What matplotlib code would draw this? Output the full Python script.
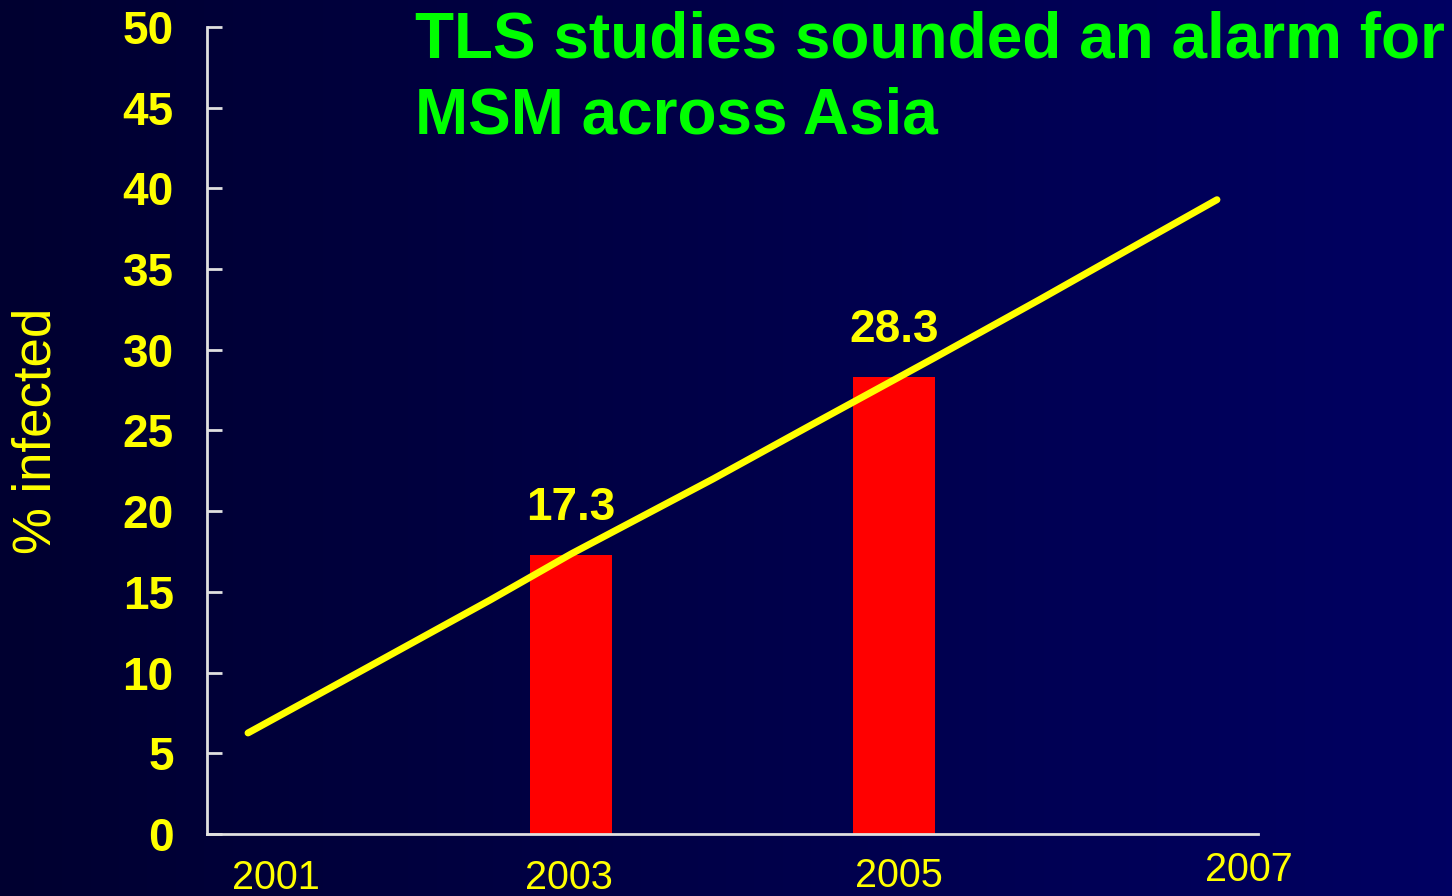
import numpy as np
import matplotlib
matplotlib.use("Agg")
import matplotlib.pyplot as plt

# data
bar_years = [2003, 2005]
bar_values = [17.3, 28.3]

trend_years = [2001.0, 2001.5, 2002.5, 2003.0, 2003.88, 2004.48, 2005.25, 2005.9, 2006.52, 2007.0]
trend_values = [6.26, 9.0, 14.5, 17.35, 22.0, 25.3, 29.5, 33.1, 36.6, 39.3]

year_labels = ["2001", "2003", "2005", "2007"]
year_label_x = [2001.17, 2002.99, 2005.03, 2007.2]
year_label_y = [-0.055, -0.055, -0.052, -0.045]

title_lines = ["TLS studies sounded an alarm for", "MSM across Asia"]

yellow = "#FFFF00"
green = "#00FF00"
font = "Liberation Sans"

fig = plt.figure(figsize=(14.52, 8.96), dpi=100)

# horizontal navy gradient background
bg = fig.add_axes([0, 0, 1, 1], zorder=-10)
grad = np.linspace(0, 1, 256).reshape(1, -1)
cmap = matplotlib.colors.LinearSegmentedColormap.from_list("navy", ["#000030", "#000062"])
bg.imshow(grad, aspect="auto", cmap=cmap, extent=[0, 1, 0, 1])
bg.axis("off")

ax = fig.add_axes([207 / 1452, 1 - 834 / 896, 1051 / 1452, 807 / 896])
ax.patch.set_alpha(0)

ax.bar(bar_years, bar_values, width=0.51, color="#FF0000", zorder=2)
ax.plot(trend_years, trend_values, color=yellow, lw=5, solid_capstyle="round", zorder=3)

for x, v in zip(bar_years, bar_values):
    ax.text(x, v + 2.9, f"{v}", ha="center", va="center", color=yellow,
            fontsize=33, fontweight="bold", family=font)

ax.set_xlim(2000.746, 2007.254)
ax.set_ylim(0, 50)
ax.set_yticks(np.arange(0, 51, 5))
ax.set_xticks([])

ax.tick_params(axis="y", direction="in", length=11, width=2, color="#E0E0E0",
               labelsize=33, labelcolor=yellow, pad=24)
for lab in ax.get_yticklabels():
    lab.set_fontweight("bold")
    lab.set_family(font)

for s in ["top", "right"]:
    ax.spines[s].set_visible(False)
for s in ["left", "bottom"]:
    ax.spines[s].set_color("#E0E0E0")
    ax.spines[s].set_linewidth(2)

for lab, x, y in zip(year_labels, year_label_x, year_label_y):
    ax.text(x, y, lab, transform=ax.get_xaxis_transform(), ha="center", va="center",
            color=yellow, fontsize=28.5, family=font)

fig.text(37 / 1452, 1 - 431 / 896, "% infected", rotation=90, ha="center", va="center",
         color=yellow, fontsize=38, family=font)

fig.text(415 / 1452, 1 - 57 / 896, title_lines[0], ha="left", va="baseline",
         color=green, fontsize=46, fontweight="bold", family=font)
fig.text(415 / 1452, 1 - 133 / 896, title_lines[1], ha="left", va="baseline",
         color=green, fontsize=46, fontweight="bold", family=font)

fig.savefig("out.png", dpi=100)
